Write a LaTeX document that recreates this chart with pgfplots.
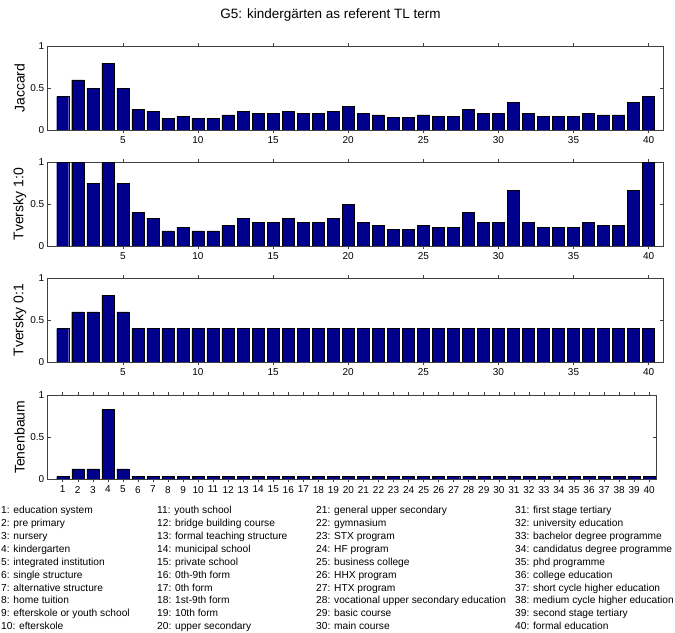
\documentclass[border=0pt]{standalone}
\usepackage{fontspec}
\setmainfont{Liberation Sans}
\usepackage{pgfplots}
\pgfplotsset{compat=1.18}
\definecolor{barblue}{RGB}{0,0,140}
\pgfplotsset{panel/.style={
  scale only axis, width=616bp, height=83.5bp,
  xmin=0, xmax=41, ymin=0, ymax=1,
  ytick={0,0.5,1},
  xtick={5,10,...,40},
  tick align=inside, xtick pos=both, ytick pos=both,
  major tick length=3.5bp,
  tick style={black!75, line width=0.5bp},
  axis line style={black!75, line width=0.6bp},
  /pgf/number format/assume math mode=true,
  tick label style={font=\fontsize{10bp}{12bp}\selectfont},
  label style={font=\fontsize{14bp}{16bp}\selectfont},
  ylabel style={at={(axis description cs:-0.0455,0.5)}, anchor=center},
  ybar, bar width=0.8,
  every axis plot post/.append style={fill=barblue, draw=black, line width=0.4bp},
}}
\begin{document}
\begin{tikzpicture}
\useasboundingbox (0,0) rectangle (675bp,633bp);
\clip (0,0) rectangle (675bp,633bp);
\begin{axis}[panel, at={(47.7bp,503bp)}, anchor=south west, ylabel={Jaccard}]
\addplot coordinates {(1,0.4) (2,0.6) (3,0.5) (4,0.8) (5,0.5) (6,0.25) (7,0.222) (8,0.143) (9,0.167) (10,0.143)
(11,0.143) (12,0.182) (13,0.222) (14,0.2) (15,0.2) (16,0.222) (17,0.2) (18,0.2) (19,0.222) (20,0.286)
(21,0.2) (22,0.182) (23,0.154) (24,0.154) (25,0.182) (26,0.167) (27,0.167) (28,0.25) (29,0.2) (30,0.2)
(31,0.333) (32,0.2) (33,0.167) (34,0.167) (35,0.167) (36,0.2) (37,0.182) (38,0.182) (39,0.333) (40,0.4)};
\end{axis}
\begin{axis}[panel, at={(47.7bp,387bp)}, anchor=south west, ylabel={Tversky 1:0}]
\addplot coordinates {(1,1) (2,1) (3,0.75) (4,1) (5,0.75) (6,0.4) (7,0.333) (8,0.182) (9,0.222) (10,0.182)
(11,0.182) (12,0.25) (13,0.333) (14,0.286) (15,0.286) (16,0.333) (17,0.286) (18,0.286) (19,0.333) (20,0.5)
(21,0.286) (22,0.25) (23,0.2) (24,0.2) (25,0.25) (26,0.222) (27,0.222) (28,0.4) (29,0.286) (30,0.286)
(31,0.667) (32,0.286) (33,0.222) (34,0.222) (35,0.222) (36,0.286) (37,0.25) (38,0.25) (39,0.667) (40,1)};
\end{axis}
\begin{axis}[panel, at={(47.7bp,271bp)}, anchor=south west, ylabel={Tversky 0:1}]
\addplot coordinates {(1,0.4) (2,0.6) (3,0.6) (4,0.8) (5,0.6) (6,0.4) (7,0.4) (8,0.4) (9,0.4) (10,0.4)
(11,0.4) (12,0.4) (13,0.4) (14,0.4) (15,0.4) (16,0.4) (17,0.4) (18,0.4) (19,0.4) (20,0.4)
(21,0.4) (22,0.4) (23,0.4) (24,0.4) (25,0.4) (26,0.4) (27,0.4) (28,0.4) (29,0.4) (30,0.4)
(31,0.4) (32,0.4) (33,0.4) (34,0.4) (35,0.4) (36,0.4) (37,0.4) (38,0.4) (39,0.4) (40,0.4)};
\end{axis}
\begin{axis}[panel, width=609bp, xmax=40.5, xtick={1,...,40}, at={(47.7bp,154bp)}, anchor=south west, ylabel={Tenenbaum},
  ylabel style={at={(axis description cs:-0.046,0.5)}}]
\addplot coordinates {(1,0.03) (2,0.12) (3,0.12) (4,0.83) (5,0.12) (6,0.03) (7,0.03) (8,0.03) (9,0.03) (10,0.03)
(11,0.03) (12,0.03) (13,0.03) (14,0.03) (15,0.03) (16,0.03) (17,0.03) (18,0.03) (19,0.03) (20,0.03)
(21,0.03) (22,0.03) (23,0.03) (24,0.03) (25,0.03) (26,0.03) (27,0.03) (28,0.03) (29,0.03) (30,0.03)
(31,0.03) (32,0.03) (33,0.03) (34,0.03) (35,0.03) (36,0.03) (37,0.03) (38,0.03) (39,0.03) (40,0.03)};
\end{axis}
\node[font=\fontsize{13.5bp}{16bp}\selectfont] at (330.5bp,618bp) {G5: kindergärten as referent TL term};
\begin{scope}[every node/.style={anchor=base west, inner sep=0pt, font=\fontsize{10.2bp}{12bp}\selectfont}]
\foreach \t [count=\i] in {education system, pre primary, nursery, kindergarten, integrated institution, single structure, alternative structure, home tuition, efterskole or youth school, efterskole}
  \node at (1bp,{(119.4-12.9*(\i-1))*1bp}) {\i: \t};
\foreach \t [count=\i from 11] in {youth school, bridge building course, formal teaching structure, municipal school, private school, 0th-9th form, 0th form, 1st-9th form, 10th form, upper secondary}
  \node at (157bp,{(119.4-12.9*(\i-11))*1bp}) {\i: \t};
\foreach \t [count=\i from 21] in {general upper secondary, gymnasium, STX program, HF program, business college, HHX program, HTX program, vocational upper secondary education, basic course, main course}
  \node at (316bp,{(119.4-12.9*(\i-21))*1bp}) {\i: \t};
\foreach \t [count=\i from 31] in {first stage tertiary, university education, bachelor degree programme, candidatus degree programme, phd programme, college education, short cycle higher education, medium cycle higher education, second stage tertiary, formal education}
  \node at (515bp,{(119.4-12.9*(\i-31))*1bp}) {\i: \t};
\end{scope}
\end{tikzpicture}
\end{document}
